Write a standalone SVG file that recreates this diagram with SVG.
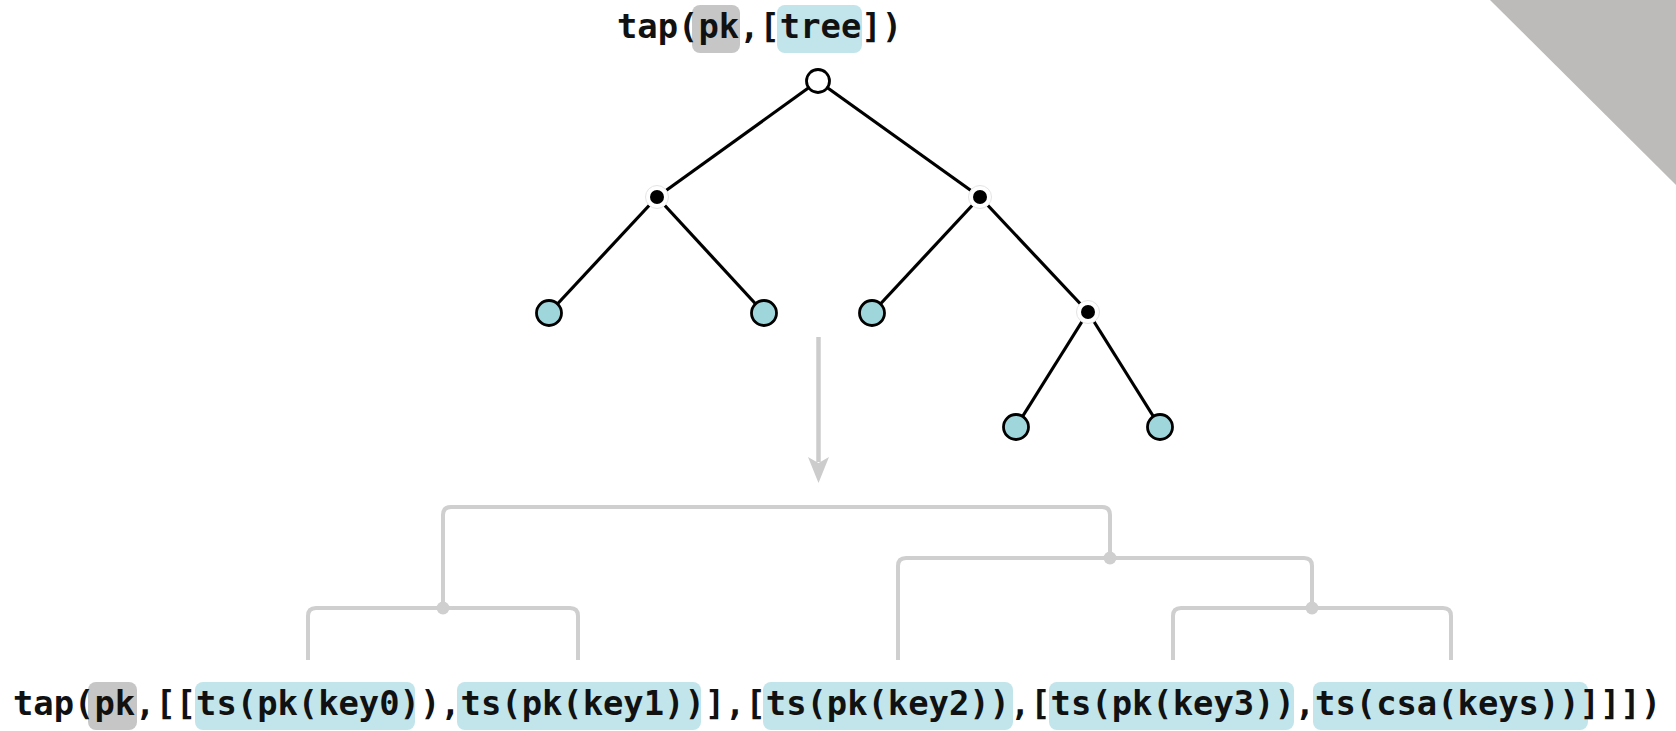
<svg xmlns="http://www.w3.org/2000/svg" width="1676" height="731" viewBox="0 0 1676 731">
  <style>
    .code { font-family: "DejaVu Sans Mono", "Liberation Mono", monospace; font-weight: bold; font-size: 33.8px; fill: #111111; }
    .hl-grey { fill: #c6c6c6; }
    .hl-cyan { fill: #c1e5ea; }
    .edge { stroke: #000000; stroke-width: 3.2; fill: none; }
    .leaf { fill: #9fd6dc; stroke: #000000; stroke-width: 2.8; }
    .root { fill: #ffffff; stroke: #000000; stroke-width: 2.8; }
    .halo { fill: #ffffff; stroke: #e4e4e4; stroke-width: 1; }
    .dot { fill: #000000; }
    .bracket { stroke: #cfcfcf; stroke-width: 4; fill: none; }
    .junction { fill: #cfcfcf; }
    .arrow { stroke: #cccccc; stroke-width: 4.5; fill: none; }
  </style>
  <rect width="1676" height="731" fill="#ffffff"/>
  <polygon points="1490,0 1676,0 1676,185" fill="#bcbbba"/>

  <g id="top-label">
    <rect class="hl-grey" x="692" y="5" width="48" height="48" rx="8"/>
    <rect class="hl-cyan" x="777" y="5" width="85" height="48" rx="8"/>
    <text class="code" x="617" y="38" textLength="285" lengthAdjust="spacing">tap(pk,[tree])</text>
  </g>

  <g id="connectors">
    <g id="tree-edges">
      <line class="edge" x1="818" y1="81" x2="657" y2="197"/>
      <line class="edge" x1="818" y1="81" x2="980" y2="197"/>
      <line class="edge" x1="657" y1="197" x2="549" y2="313"/>
      <line class="edge" x1="657" y1="197" x2="764" y2="313"/>
      <line class="edge" x1="980" y1="197" x2="872" y2="313"/>
      <line class="edge" x1="980" y1="197" x2="1088" y2="312"/>
      <line class="edge" x1="1088" y1="312" x2="1016" y2="427"/>
      <line class="edge" x1="1088" y1="312" x2="1160" y2="427"/>
    </g>
    <g id="arrow">
      <line class="arrow" x1="818.5" y1="337" x2="818.5" y2="462"/>
      <polygon points="808,457 818.5,483 829,457 818.5,463" fill="#cccccc"/>
    </g>
    <g id="brackets">
      <path class="bracket" d="M 443 608 V 515 Q 443 507 451 507 H 1102 Q 1110 507 1110 515 V 558"/>
      <path class="bracket" d="M 308 660 V 616 Q 308 608 316 608 H 570 Q 578 608 578 616 V 660"/>
      <path class="bracket" d="M 898 660 V 566 Q 898 558 906 558 H 1304 Q 1312 558 1312 566 V 608"/>
      <path class="bracket" d="M 1173 660 V 616 Q 1173 608 1181 608 H 1443 Q 1451 608 1451 616 V 660"/>
      <circle class="junction" cx="443" cy="608" r="6.5"/>
      <circle class="junction" cx="1110" cy="558" r="6.5"/>
      <circle class="junction" cx="1312" cy="608" r="6.5"/>
    </g>
  </g>

  <g id="node-root"><circle class="root" cx="818" cy="81" r="11.5"/></g>
  <g id="node-inner-left"><circle class="halo" cx="657" cy="197" r="11.5"/><circle class="dot" cx="657" cy="197" r="7"/></g>
  <g id="node-inner-right"><circle class="halo" cx="980" cy="197" r="11.5"/><circle class="dot" cx="980" cy="197" r="7"/></g>
  <g id="node-inner-low"><circle class="halo" cx="1088" cy="312" r="11.5"/><circle class="dot" cx="1088" cy="312" r="7"/></g>
  <g id="node-leaf-0"><circle class="leaf" cx="549" cy="313" r="12.5"/></g>
  <g id="node-leaf-1"><circle class="leaf" cx="764" cy="313" r="12.5"/></g>
  <g id="node-leaf-2"><circle class="leaf" cx="872" cy="313" r="12.5"/></g>
  <g id="node-leaf-3"><circle class="leaf" cx="1016" cy="427" r="12.5"/></g>
  <g id="node-leaf-4"><circle class="leaf" cx="1160" cy="427" r="12.5"/></g>

  <g id="bottom-label">
    <rect class="hl-grey" x="88" y="682" width="49" height="48" rx="8"/>
    <rect class="hl-cyan" x="195" y="682" width="220" height="48" rx="8"/>
    <rect class="hl-cyan" x="457" y="682" width="244" height="48" rx="8"/>
    <rect class="hl-cyan" x="763" y="682" width="250" height="48" rx="8"/>
    <rect class="hl-cyan" x="1049" y="682" width="245" height="48" rx="8"/>
    <rect class="hl-cyan" x="1313" y="682" width="275" height="48" rx="8"/>
    <text class="code" x="13" y="715" textLength="1648" lengthAdjust="spacing">tap(pk,[[ts(pk(key0)),ts(pk(key1))],[ts(pk(key2)),[ts(pk(key3)),ts(csa(keys))]]])</text>
  </g>
</svg>
